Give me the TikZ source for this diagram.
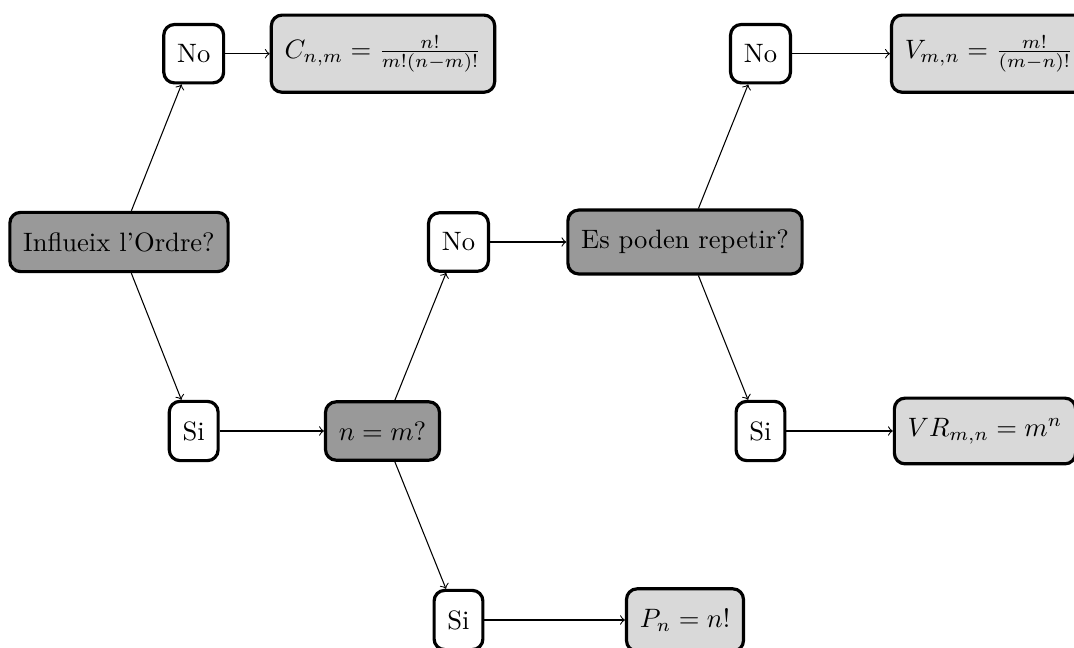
\documentclass[tikz,border=0pt]{standalone}
\usetikzlibrary{arrows}
\definecolor{qdark}{gray}{0.6}
\definecolor{qlight}{gray}{0.85}
\tikzset{
  box/.style={draw, rounded corners=4pt, line width=1.2pt, inner xsep=5pt, inner ysep=7.5pt},
  question/.style={box, fill=qdark},
  answer/.style={box, fill=white},
  result/.style={box, fill=qlight},
  conn/.style={->, line width=0.4pt},
}
\begin{document}
\begin{tikzpicture}[x=0.3759pt, y=-0.3759pt]
\clip (0,0) rectangle (1074,648);
\node[question] (io) at (119,242) {Influeix l'Ordre?};
\node[answer] (no1) at (193.7,53.7) {No};
\node[result] (C) at (383,53.7) {$C_{n,m} = \frac{n!}{m!(n-m)!}$};
\node[answer] (si1) at (193.7,431) {Si};
\node[question] (nm) at (382.5,431) {$n = m?$};
\node[answer] (no2) at (458.5,242) {No};
\node[question] (ep) at (685,242) {Es poden repetir?};
\node[answer] (si2) at (458.5,620) {Si};
\node[result] (P) at (685,620) {$P_n = n!$};
\node[answer] (no3) at (760.5,53.7) {No};
\node[result] (V) at (989,53.7) {$V_{m,n} = \frac{m!}{(m-n)!}$};
\node[answer] (si3) at (760.5,431) {Si};
\node[result] (VR) at (985,431) {$VR_{m,n} = m^n$};
\draw[conn] (io) -- (no1);
\draw[conn] (io) -- (si1);
\draw[conn] (no1) -- (C);
\draw[conn] (si1) -- (nm);
\draw[conn] (nm) -- (no2);
\draw[conn] (nm) -- (si2);
\draw[conn] (no2) -- (ep);
\draw[conn] (si2) -- (P);
\draw[conn] (ep) -- (no3);
\draw[conn] (ep) -- (si3);
\draw[conn] (no3) -- (V);
\draw[conn] (si3) -- (VR);
\end{tikzpicture}
\end{document}
